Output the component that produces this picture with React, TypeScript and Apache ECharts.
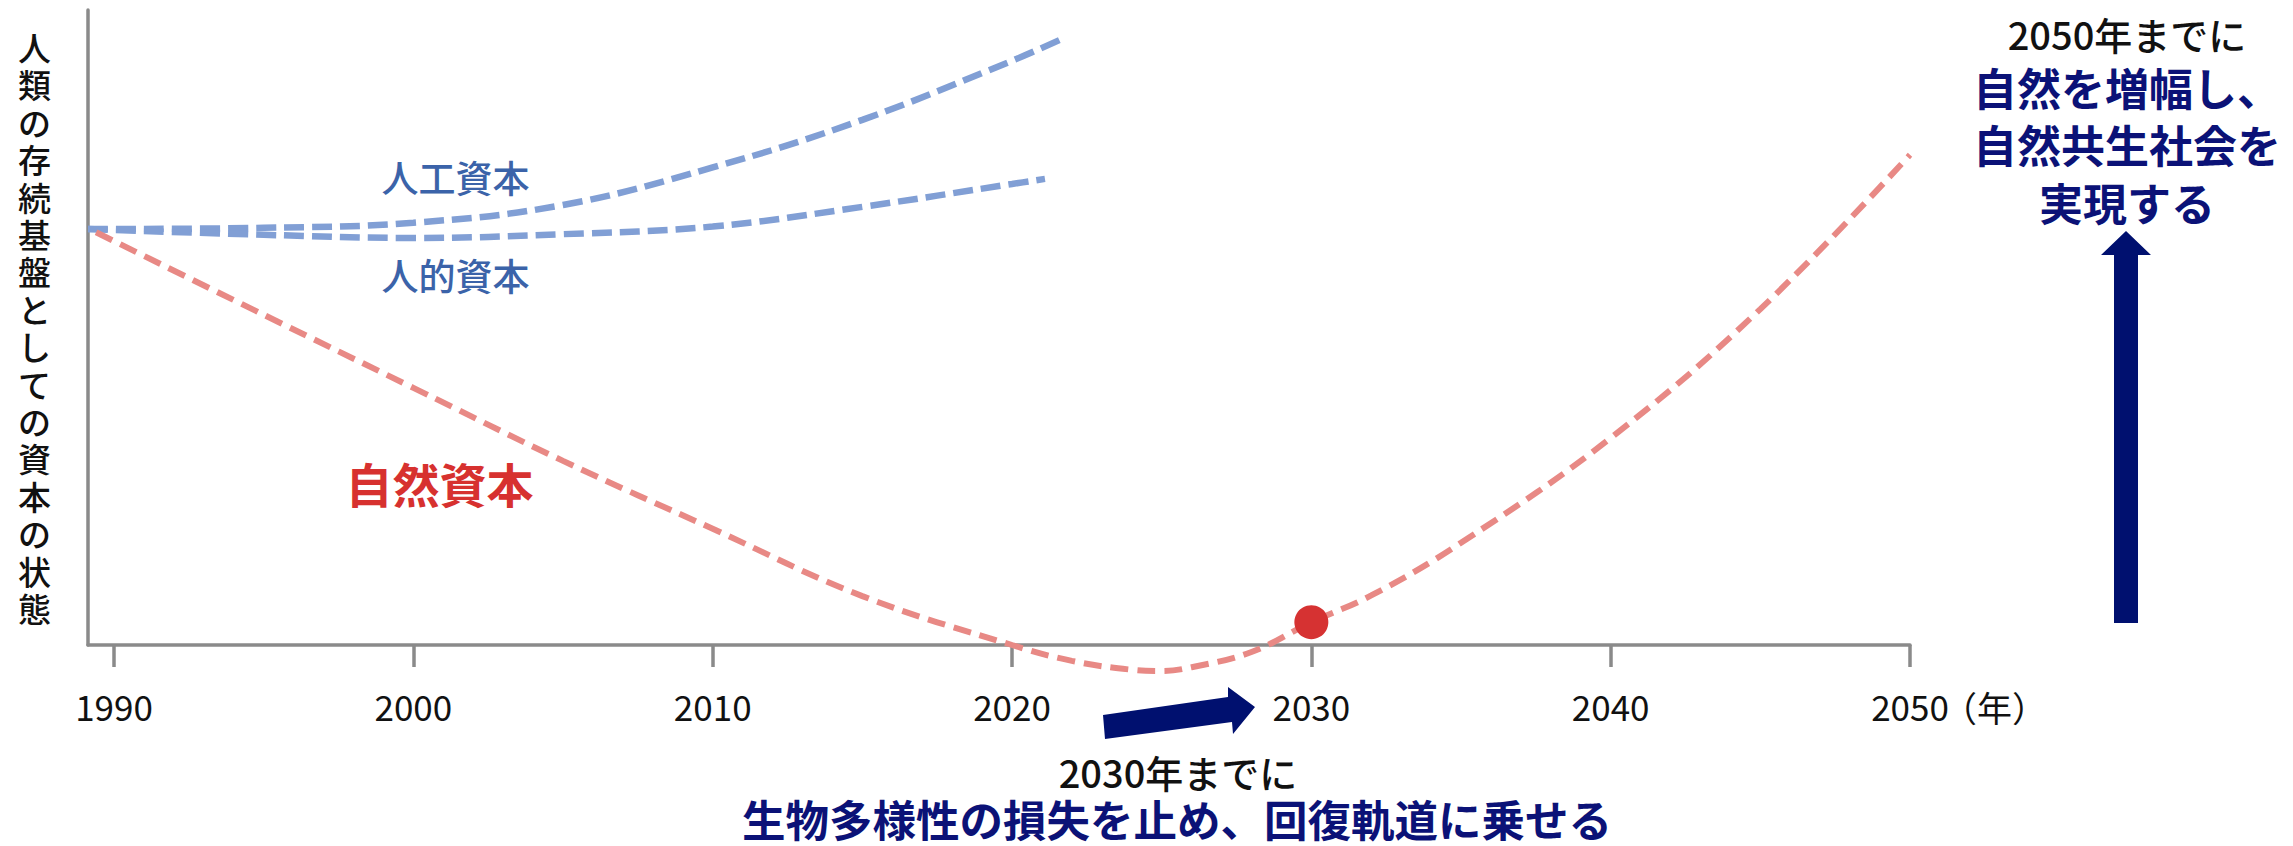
import React, { useEffect, useRef } from "react";
import * as echarts from "echarts";

// ---- data ----
const yearTicks = [1990, 2000, 2010, 2020, 2030, 2040, 2050];

const naturalYears = [1989.4, 1995, 2000, 2005, 2010, 2015, 2020, 2022, 2024, 2025, 2026, 2028, 2030, 2032, 2035, 2040, 2045, 2050];
const naturalValues = [65.0, 52.0, 40.5, 29.0, 18.3, 7.7, 0, -2.5, -3.9, -4.1, -3.5, -1.1, 3.6, 7.8, 16.1, 32.6, 52.9, 77.2];

const manmadeYears = [1989.13, 1995, 2000, 2005, 2010, 2015, 2020, 2021.6];
const manmadeValues = [65.5, 65.7, 66.5, 69.3, 75.2, 82.7, 92.0, 95.3];

const humanYears = [1989.13, 1995, 2000, 2005, 2010, 2015, 2020, 2021.1];
const humanValues = [65.5, 64.6, 64.1, 64.7, 65.9, 69.0, 72.6, 73.4];

const milestoneYears = [2030];
const milestoneValues = [3.6];

const yTitle = "人類の存続基盤としての資本の状態";
const xUnit = "（年）";
const labelManmade = "人工資本";
const labelHuman = "人的資本";
const labelNatural = "自然資本";
const goal2050Head = "2050年までに";
const goal2050Body = "自然を増幅し、\n自然共生社会を\n実現する";
const goal2030Head = "2030年までに";
const goal2030Body = "生物多様性の損失を止め、回復軌道に乗せる";

const pairs = (xs: number[], ys: number[]) => xs.map((x, i) => [x, ys[i]]);

export default function App() {
  const ref = useRef<HTMLDivElement>(null);

  useEffect(() => {
    document.body.style.margin = "0";
    const chart = echarts.init(ref.current!, null, { renderer: "svg" });
    const font = '"Noto Sans CJK JP", "Noto Sans", sans-serif';
    const navy = "#0b1277";
    const axisGray = "#8a8a8a";

    const option: any = {
      animation: false,
      backgroundColor: "#ffffff",
      grid: { left: 88, right: 383, top: 10, bottom: 201, containLabel: false },
      xAxis: {
        type: "value",
        min: 1989.13,
        max: 2050,
        axisLine: { show: true, onZero: false, lineStyle: { color: axisGray, width: 3.5 } },
        axisTick: { show: true, length: 22, customValues: yearTicks, lineStyle: { color: axisGray, width: 3.5 } },
        axisLabel: {
          show: true,
          customValues: yearTicks,
          margin: 42,
          fontFamily: font,
          fontSize: 35,
          lineHeight: 36,
          color: "#111111",
          formatter: (v: number) => String(Math.round(v)),
        },
        splitLine: { show: false },
      },
      yAxis: {
        type: "value",
        min: 0,
        max: 100,
        name: yTitle.split("").join("\n"),
        nameLocation: "middle",
        nameRotate: 0,
        nameGap: 37,
        nameTextStyle: { fontFamily: font, fontSize: 33, fontWeight: 500, lineHeight: 37.4, color: "#111111", align: "right" },
        axisLine: { show: true, lineStyle: { color: axisGray, width: 3.5 } },
        axisTick: { show: false },
        axisLabel: { show: false },
        splitLine: { show: false },
      },
      series: [
        {
          type: "line",
          name: labelManmade,
          data: pairs(manmadeYears, manmadeValues),
          smooth: 0.4,
          showSymbol: false,
          clip: false,
          lineStyle: { color: "#819fd5", width: 6.5, type: [20, 8] },
          z: 2,
        },
        {
          type: "line",
          name: labelHuman,
          data: pairs(humanYears, humanValues),
          smooth: 0.4,
          showSymbol: false,
          clip: false,
          lineStyle: { color: "#819fd5", width: 6.5, type: [20, 8] },
          z: 2,
        },
        {
          type: "line",
          name: labelNatural,
          data: pairs(naturalYears, naturalValues),
          smooth: 0.4,
          showSymbol: false,
          clip: false,
          lineStyle: { color: "#e88985", width: 6, type: [18, 9] },
          z: 3,
        },
        {
          type: "scatter",
          name: "2030",
          data: pairs(milestoneYears, milestoneValues),
          symbol: "circle",
          symbolSize: 34,
          clip: false,
          itemStyle: { color: "#d63232", opacity: 1 },
          z: 5,
        },
      ],
      graphic: [
        {
          type: "text",
          x: 1942,
          y: 706,
          style: { text: xUnit, fill: "#111111", fontFamily: font, fontSize: 35, textAlign: "left", textVerticalAlign: "middle", align: "left", verticalAlign: "middle" },
        },
        {
          type: "text",
          x: 455.5,
          y: 176.5,
          style: { text: labelManmade, fill: "#3b63a9", fontFamily: font, fontSize: 37, fontWeight: 500, textAlign: "center", textVerticalAlign: "middle", align: "center", verticalAlign: "middle" },
        },
        {
          type: "text",
          x: 455.5,
          y: 274.5,
          style: { text: labelHuman, fill: "#3b63a9", fontFamily: font, fontSize: 37, fontWeight: 500, textAlign: "center", textVerticalAlign: "middle", align: "center", verticalAlign: "middle" },
        },
        {
          type: "text",
          x: 439.5,
          y: 482,
          style: { text: labelNatural, fill: "#d7312f", fontFamily: font, fontSize: 47, fontWeight: "bold", textAlign: "center", textVerticalAlign: "middle", align: "center", verticalAlign: "middle" },
        },
        {
          type: "text",
          x: 2127,
          y: 33,
          style: { text: goal2050Head, fill: "#111111", fontFamily: font, fontSize: 38, fontWeight: 500, textAlign: "center", textVerticalAlign: "middle", align: "center", verticalAlign: "middle" },
        },
        {
          type: "text",
          x: 2127,
          y: 57.75,
          style: { text: goal2050Body, fill: navy, fontFamily: font, fontSize: 44, fontWeight: "bold", lineHeight: 57.5, textAlign: "center", textVerticalAlign: "top", align: "center", verticalAlign: "top" },
        },
        {
          type: "polygon",
          shape: { points: [[2126, 231], [2151, 255], [2138, 255], [2138, 623], [2114, 623], [2114, 255], [2101, 255]] },
          style: { fill: "#00106f" },
        },
        {
          type: "polygon",
          shape: { points: [[1103, 715], [1228, 697], [1228, 687], [1255, 707], [1233, 734], [1232, 722], [1105, 739]] },
          style: { fill: "#00106f" },
        },
        {
          type: "text",
          x: 1178,
          y: 771,
          style: { text: goal2030Head, fill: "#111111", fontFamily: font, fontSize: 38, fontWeight: 500, lineHeight: 40, textAlign: "center", textVerticalAlign: "middle", align: "center", verticalAlign: "middle" },
        },
        {
          type: "text",
          x: 1177,
          y: 818,
          style: { text: goal2030Body, fill: navy, fontFamily: font, fontSize: 43.5, fontWeight: "bold", lineHeight: 44, textAlign: "center", textVerticalAlign: "middle", align: "center", verticalAlign: "middle" },
        },
      ],
    };

    chart.setOption(option);
    return () => chart.dispose();
  }, []);

  return <div ref={ref} style={{ width: 2293, height: 846 }} />;
}
